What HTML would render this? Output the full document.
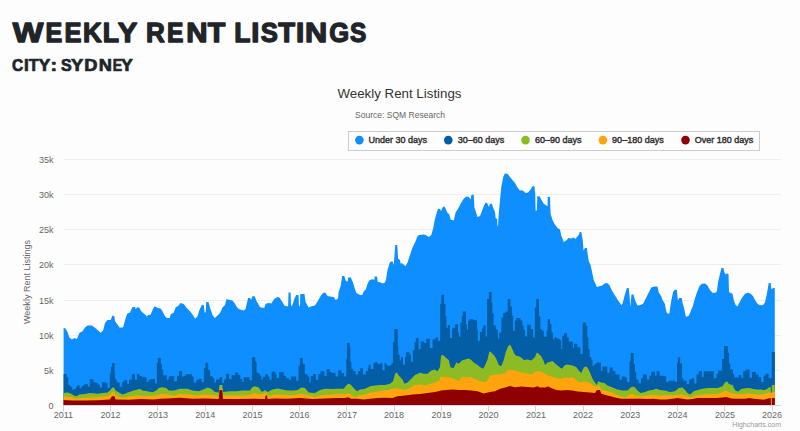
<!DOCTYPE html>
<html><head><meta charset="utf-8">
<style>
html,body{margin:0;padding:0;background:#fdfdfd;width:800px;height:431px;overflow:hidden}
svg{position:absolute;left:0;top:0}
text{font-family:"Liberation Sans",sans-serif}
</style></head><body>
<svg width="800" height="431" viewBox="0 0 800 431">
<g font-weight="bold" fill="#212529" stroke="#212529" stroke-linejoin="round">
<text transform="translate(12.64 42.0) scale(1.192 1)" font-size="27.2" stroke-width="1.3">W</text>
<text transform="translate(45.42 42.0) scale(0.924 1)" font-size="27.2" stroke-width="1.3">E</text>
<text transform="translate(64.41 42.0) scale(0.936 1)" font-size="27.2" stroke-width="1.3">E</text>
<text transform="translate(82.88 42.0) scale(0.954 1)" font-size="27.2" stroke-width="1.3">K</text>
<text transform="translate(102.85 42.0) scale(0.983 1)" font-size="27.2" stroke-width="1.3">L</text>
<text transform="translate(117.70 42.0) scale(1.079 1)" font-size="27.2" stroke-width="1.3">Y</text>
<text transform="translate(146.08 42.0) scale(0.959 1)" font-size="27.2" stroke-width="1.3">R</text>
<text transform="translate(167.04 42.0) scale(0.906 1)" font-size="27.2" stroke-width="1.3">E</text>
<text transform="translate(186.23 42.0) scale(1.084 1)" font-size="27.2" stroke-width="1.3">N</text>
<text transform="translate(207.86 42.0) scale(1.057 1)" font-size="27.2" stroke-width="1.3">T</text>
<text transform="translate(234.36 42.0) scale(0.976 1)" font-size="27.2" stroke-width="1.3">L</text>
<text transform="translate(251.34 42.0) scale(1.073 1)" font-size="27.2" stroke-width="1.3">I</text>
<text transform="translate(260.77 42.0) scale(0.943 1)" font-size="27.2" stroke-width="1.3">S</text>
<text transform="translate(278.25 42.0) scale(1.011 1)" font-size="27.2" stroke-width="1.3">T</text>
<text transform="translate(296.12 42.0) scale(1.092 1)" font-size="27.2" stroke-width="1.3">I</text>
<text transform="translate(305.08 42.0) scale(1.128 1)" font-size="27.2" stroke-width="1.3">N</text>
<text transform="translate(329.26 42.0) scale(0.941 1)" font-size="27.2" stroke-width="1.3">G</text>
<text transform="translate(349.98 42.0) scale(0.898 1)" font-size="27.2" stroke-width="1.3">S</text>
<text transform="translate(12.09 70.6) scale(0.935 1)" font-size="16.6" stroke-width="0.7">C</text>
<text transform="translate(24.01 70.6) scale(1.035 1)" font-size="16.6" stroke-width="0.7">I</text>
<text transform="translate(28.76 70.6) scale(0.974 1)" font-size="16.6" stroke-width="0.7">T</text>
<text transform="translate(38.47 70.6) scale(1.069 1)" font-size="16.6" stroke-width="0.7">Y</text>
<text transform="translate(50.52 70.6) scale(1.186 1)" font-size="16.6" stroke-width="0.7">:</text>
<text transform="translate(61.08 70.6) scale(0.968 1)" font-size="16.6" stroke-width="0.7">S</text>
<text transform="translate(71.07 70.6) scale(1.114 1)" font-size="16.6" stroke-width="0.7">Y</text>
<text transform="translate(84.16 70.6) scale(1.103 1)" font-size="16.6" stroke-width="0.7">D</text>
<text transform="translate(98.66 70.6) scale(1.100 1)" font-size="16.6" stroke-width="0.7">N</text>
<text transform="translate(112.85 70.6) scale(0.849 1)" font-size="16.6" stroke-width="0.7">E</text>
<text transform="translate(121.07 70.6) scale(1.069 1)" font-size="16.6" stroke-width="0.7">Y</text>
</g>

<text x="337.5" y="97.5" font-size="12.5" fill="#333" textLength="124" lengthAdjust="spacingAndGlyphs">Weekly Rent Listings</text>
<text x="355" y="117.7" font-size="9" fill="#666" textLength="90" lengthAdjust="spacingAndGlyphs">Source: SQM Research</text>
<!-- grid -->
<g stroke="#eeeeee" stroke-width="1">
<path d="M64 159.5H781M64 194.5H781M64 229.5H781M64 264.5H781M64 300.5H781M64 335.5H781M64 370.5H781"/>
</g>
<!-- legend -->
<rect x="348.5" y="131.5" width="411" height="19" fill="#fdfdfd" stroke="#cccccc" stroke-width="1"/>
<g font-size="9.5" font-weight="normal" fill="#333" stroke="#333" stroke-width="0.45">
<circle cx="359.4" cy="140.1" r="4.3" fill="#0f8fff" stroke="none"/><text x="368.6" y="143.4" textLength="58.4" lengthAdjust="spacingAndGlyphs">Under 30 days</text>
<circle cx="448.3" cy="140.1" r="4.3" fill="#035ea5" stroke="none"/><text x="457.8" y="143.4" textLength="46.5" lengthAdjust="spacingAndGlyphs">30&#8211;60 days</text>
<circle cx="525.5" cy="140.1" r="4.3" fill="#8cbb24" stroke="none"/><text x="535" y="143.4" textLength="46.6" lengthAdjust="spacingAndGlyphs">60&#8211;90 days</text>
<circle cx="602.9" cy="140.1" r="4.3" fill="#ffa40c" stroke="none"/><text x="612.1" y="143.4" textLength="51.7" lengthAdjust="spacingAndGlyphs">90&#8211;180 days</text>
<circle cx="685.5" cy="140.1" r="4.3" fill="#8f0000" stroke="none"/><text x="694.7" y="143.4" textLength="58.5" lengthAdjust="spacingAndGlyphs">Over 180 days</text>
</g>
<!-- y labels -->
<g font-size="9" fill="#666" text-anchor="end">
<text x="53.4" y="162.8">35k</text>
<text x="53.4" y="198.0">30k</text>
<text x="53.4" y="233.2">25k</text>
<text x="53.4" y="268.4">20k</text>
<text x="53.4" y="303.6">15k</text>
<text x="53.4" y="338.8">10k</text>
<text x="53.4" y="374.0">5k</text>
<text x="53.4" y="408.5">0</text>
</g>
<text transform="translate(29.8,282) rotate(-90)" font-size="9" fill="#666" text-anchor="middle" textLength="84" lengthAdjust="spacingAndGlyphs">Weekly Rent Listings</text>
<path fill="#0f8fff" d="M63.6 405L63.6 328.1L63.75 328.1L65.6 328.5L67.5 331.9L69.4 337.5L71.9 339.4L74.4 338.1L76.9 339L79.4 333.1L82.5 331.25L85 327.5L87.5 325.4L91.9 325.4L95 327.75L97.5 330L100.6 332.75L103.1 330.6L105 323.1L107.5 320L110.6 320L112.5 315.6L114.4 316.25L115 321.25L117.5 324.4L119.75 327.75L123.1 327.25L125 320.6L127.1 313.75L130 312.5L132.5 306.9L135 306.9L135.6 309L137.5 307.25L139.4 307.75L141.25 311.25L145 314.4L146.9 316.5L148.1 315L150.6 314.75L152.5 310L154.4 306.6L156.25 306.9L157.5 308.1L160.6 308.5L162.5 311.25L165 316.25L166.9 318.1L169.75 318.1L170.6 314.4L173.75 312.5L175.6 307.5L178.1 306L180.6 303.1L183.75 304L186.25 307.5L190 311.25L192.5 314.4L195.25 318.75L197.5 316.25L199.4 310L201.9 304.75L203.75 305L204.6 312.5L205.6 312.5L206.25 301.9L208.5 301.9L210 307.5L212.5 315L214.75 318.1L217.5 315.6L220 313.1L222.5 307.5L225 305L226.5 299L228.75 299.75L232.5 300.6L235 303.75L237.5 308.1L240 309.4L243.75 310.6L245.6 308.75L248.1 298.1L250 298.1L251 300L252.5 296.25L254.75 296.25L256.25 300.6L258.1 303.75L260 306.9L261.9 307.75L264.4 307.75L265.6 303.75L268.75 303.1L271.25 303.5L274.4 298.75L277.5 296.9L279.4 297.5L281.9 301.25L284.4 305.6L286.25 306.25L288.1 306.25L288.5 292.5L290.6 292.5L291 306.25L292.5 305L294.4 298.75L296.25 295L298.5 295L299 306.25L300 306.25L300.25 294L304.4 294L305.6 301.9L308.75 307.5L311.25 306.25L315 305.6L318.1 300.6L321.25 295L323.75 292.5L325.6 293.1L327.5 296L330 296.5L333.75 296.9L335.6 300L336.5 299.5L338 298.6L338.75 291.5L340.6 286.25L341.75 278.75L342.1 275.9L344.4 276.1L345.5 280.25L347.4 281.75L348.4 277.25L350.75 277.6L353 282.5L354.5 287.75L356.4 293L358.25 294.1L360.1 295.1L362.4 295.1L363.5 291.5L365.75 289.6L367.25 284.75L369.1 280.6L371.75 279.35L374.4 279.65L374.75 276.5L377 276.5L377.75 281.75L380.75 282.5L383 283.6L384.9 282.5L386 279.5L387.5 270L390 261.9L392.5 261.25L393.75 265L395.25 245L397.25 245L398.1 258.75L400 260L400.6 263.75L401.9 263.1L403.5 264.4L405.6 266.25L407.5 262.5L410 255L412.5 247.5L415 242.5L417.5 236.25L419.4 235L423.75 234.4L425.6 235L428.75 236.9L431.25 235L433.1 228.75L435 218.75L436.9 211.9L438.1 208.75L440 209L441 211.25L442.5 207.5L444.4 206.25L445.6 208.75L447.5 213.1L449.4 214.4L450.6 219.4L453.75 220.6L455.6 212.5L458.75 207.5L461.25 202.5L463.75 198.75L466.25 196.5L468.75 196.9L470.6 199.4L471.5 194.75L473.75 194.75L474.4 207.5L476.25 213.1L477.5 216.9L480 216L481.9 211.25L483.75 206.25L485.6 202.5L487.5 203.5L488.75 206.9L490 203.75L491.9 203.75L493.1 207.5L495 211.9L495.6 218L497.2 219L497.5 226L498.1 226L498.4 218L499.4 206.25L501.25 187.5L503.1 177.5L504.75 173.5L507.5 173.75L510 176.9L512.5 180L515 183.1L517.5 187.5L519.75 190.6L522.5 190.25L525.6 193.1L528.1 192.5L530.6 189.4L532.5 186.25L534.4 186.25L535.25 193.75L535.6 210.6L536.9 210.6L537.25 196.25L539.4 196.25L541.25 199.4L543.75 203.75L545.6 205L547.5 206.25L547.75 196.9L550 196.9L550.6 213.75L552.5 220L554.4 223.75L557.5 228.1L560 229.4L561.25 235.6L563.75 241.9L566.25 240.6L568.5 238.1L571.25 238.5L573.75 237.5L575.6 239L576.9 236.9L578.75 235L579.75 231.9L581.25 231.9L582.75 240L583.5 250.6L585 248.1L586.9 248.1L587.75 255L588.75 261.25L590.6 265L591.9 271.25L593.75 280L596.9 286.9L600 286L602.5 285.6L604.4 283.5L606.9 283.1L609.4 285L611.9 290.6L615 295.6L618.1 300.6L621.25 305L622.5 303.75L624.75 295L626.9 288.1L628.75 288.1L629.75 298.75L630.25 306.9L631.5 294.4L633.5 294.4L635 300L637.5 305.6L640.6 305L643.1 303.75L646.25 297.5L648.75 292.5L651.25 287.5L654.4 286.5L657.5 286.5L658.75 292.5L661.25 296.25L662.25 299.5L664.9 304L666 310L667.1 313.4L669.4 313.4L670.5 305.5L671.25 301L673.1 291.9L675 289.4L676.9 290L677.25 295L678 300.6L679.1 298L681.75 298L682.5 302.5L684 307.75L685.1 313L685.9 316.75L688.5 316L690 313L691.5 309.25L693 305.5L694.4 300L696.9 292.5L699.4 286.25L701.9 283.75L705 283.5L707.5 285.6L710 290L712.5 292.75L715 293.1L716.9 291.25L718.1 281.9L720 273.75L721.5 268.1L723.5 268.1L724.4 272.5L725.6 274.4L726.5 273.5L728.5 273.75L729 291.9L730.6 293.1L732.5 293.75L733.75 300L735.6 305L737.5 306.5L739.4 302.5L741.9 298.1L745 293.75L748.1 292.75L750.6 293.75L753.1 296.25L755 300L757.5 303.75L760 305.25L763.1 305L765 302.5L766.9 293.75L768.75 283.1L770.6 283.1L771.5 289.4L773.1 288.1L774.75 288.1L774.8 288.1L774.8 405Z"/>
<path fill="#035ea5" d="M63.6 405L63.6 374.0L63.6 374L66.6 374L66.6 377.3L68.3 377.3L68.3 384.7L69.2 384.7L69.2 385.6L70.8 385.6L70.8 387L72.2 387L72.2 389.8L73.6 389.8L73.6 388.9L75.9 388.9L75.9 387L77.3 387L77.3 385.1L79.6 385.1L79.6 387.9L81.5 387.9L81.5 386.1L83.8 386.1L83.8 384.2L88 384.2L88 386.5L89.8 386.5L89.8 379.3L93.4 379.3L93.4 381.9L94.9 381.9L94.9 382.8L97.7 382.8L97.7 384.5L99.8 384.5L99.8 387.5L102.1 387.5L102.1 382.1L104.9 382.1L104.9 382.8L107.5 382.8L107.5 387.9L109.8 387.9L109.8 373.6L110.9 373.6L110.9 366.8L112 366.8L112 363.1L114.6 363.1L114.6 373.3L115.1 373.3L115.1 378.9L116.5 378.9L116.5 381.7L117.4 381.7L117.4 382.6L119.7 382.6L119.7 386.8L122.1 386.8L122.1 382.1L123.9 382.1L123.9 380.3L127.2 380.3L127.2 384L129 384L129 379.8L131.8 379.8L131.8 374.3L134.9 374.3L134.9 379.8L136.9 379.8L136.9 374.3L139.7 374.3L139.7 376.1L142 376.1L142 376.9L144.8 376.9L144.8 377.5L146.6 377.5L146.6 382.1L148.5 382.1L148.5 379.8L150.8 379.8L150.8 379.1L155 379.1L155 383.5L156.8 383.5L156.8 363.1L157.8 363.1L157.8 358L160 358L160 358L160.8 358L160.8 364.1L161.9 364.1L161.9 369.6L163.1 369.6L163.1 375.2L166.8 375.2L166.8 379.8L168.7 379.8L168.7 376.6L170.5 376.6L170.5 375.9L174.2 375.9L174.2 381.2L177 381.2L177 375.7L178.9 375.7L178.9 371L182.1 371L182.1 376.6L184 376.6L184 375.7L185.8 375.7L185.8 374.3L191.9 374.3L191.9 376.6L193.7 376.6L193.7 382.6L196.5 382.6L196.5 379.8L198.8 379.8L198.8 378.7L201.6 378.7L201.6 382.1L203.9 382.1L203.9 368.2L205.3 368.2L205.3 362.7L208.3 362.7L208.3 370.1L210.2 370.1L210.2 376.1L212.5 376.1L212.5 378L214.3 378L214.3 382.6L216 382.6L216 379.4L219.5 379.4L219.5 377.2L222.2 377.2L222.2 383.1L224.1 383.1L224.1 379.4L226 379.4L226 373.8L229.2 373.8L229.2 378.9L231.5 378.9L231.5 375.2L235.2 375.2L235.2 372.4L238 372.4L238 374.7L240.3 374.7L240.3 378.9L242.2 378.9L242.2 381.7L243.6 381.7L243.6 377.2L249.6 377.2L249.6 380.3L251.9 380.3L251.9 357.6L253.3 357.6L253.3 357.1L255.2 357.1L255.2 361.3L256 361.3L256.05 362.2L256.6 362.2L256.6 372.4L258.2 372.4L258.2 373.8L260 373.8L260 375.7L261.4 375.7L261.4 379.4L262.8 379.4L262.8 377L265.1 377L265.1 374.3L267.9 374.3L267.9 376.6L269.3 376.6L269.3 379.8L271.6 379.8L271.6 371.7L275.5 371.7L275.5 374.3L276.7 374.3L276.7 378L279 378L279 372.2L283.7 372.2L283.7 375.7L286 375.7L286 378L288.8 378L288.8 379.8L291.1 379.8L291.1 376.6L296.2 376.6L296.2 380.8L298.5 380.8L298.5 365.5L299.9 365.5L299.9 358L302.7 358L302.7 363.1L303.1 363.1L303.1 364.1L304.8 364.1L304.8 374.3L307.6 374.3L307.6 376.6L309.4 376.6L309.4 382.6L310.8 382.6L310.8 376.1L313.1 376.1L313.1 374.1L315.9 374.1L315.9 379.8L318.2 379.8L318.2 374.3L320.6 374.3L320.6 371.3L324.3 371.3L324.3 376.1L326.6 376.1L326.6 369.2L329.8 369.2L329.8 371.9L332.1 371.9L332.1 372.9L335.4 372.9L335.4 376.6L338.2 376.6L338.2 370.6L339.95 370.6L340 370.3L341.4 370.3L341.4 373L343.9 373L343.9 376.5L346.3 376.5L346.3 359L347 359L347 343.1L349.75 343.1L349.75 347.3L350.4 347.3L350.4 361.9L351.4 361.9L351.4 368.9L353.2 368.9L353.2 371L355.6 371L355.6 374.4L358.1 374.4L358.1 371L360.2 371L360.2 368.2L363 368.2L363 374.4L365.8 374.4L365.8 371L367.9 371L367.9 368.2L368.6 368.2L368.6 364.7L370.6 364.7L370.6 368.9L373.4 368.9L373.4 363.3L374.8 363.3L374.8 362.3L377.6 362.3L377.6 364L379.7 364L379.7 363.3L382.5 363.3L382.5 370.3L384.6 370.3L384.6 362.3L388 366L389.4 366L389.4 365.3L391.5 365.3L391.5 363.2L392.9 363.2L392.9 342.3L394.3 342.3L394.3 329L397.75 329L397.75 345.8L398.4 345.8L398.4 354.8L399.8 354.8L399.8 360.4L400.8 360.4L400.8 357.6L403 357.6L403 364.6L405 364.6L405 356.9L406.1 356.9L406.1 352.3L409.6 352.3L409.6 354.8L411 354.8L411 361.8L412.8 361.8L412.8 350L414.5 350L414.5 342.3L415.9 342.3L415.9 338.1L418.6 338.1L418.6 349.2L420.7 349.2L420.7 341.6L424.2 341.6L424.2 343L426.3 343L426.3 338.8L429.8 338.8L429.8 347.9L432.6 347.9L432.6 339.5L435.4 339.5L435.4 337.4L436 337.4L438.1 337.4L438.1 340.9L440.2 340.9L440.2 304L441.3 304L441.3 294.7L444.1 294.7L444.1 304L445.5 304L445.5 315.9L446.4 315.9L446.4 327.7L447.8 327.7L447.8 324.9L449.9 324.9L449.9 338.1L452 338.1L452 328.4L453.4 328.4L453.4 327.7L455.2 327.7L455.2 324.2L458 324.2L458 332.6L459 332.6L459 336.7L460.4 336.7L460.4 322.8L461.8 322.8L461.8 315.9L462.7 315.9L462.7 311.4L466 311.4L466 324.2L466.9 324.2L466.9 329.8L468 329.8L468 320.7L469.4 320.7L469.4 319.3L473.6 319.3L473.6 320.3L477.1 320.3L477.1 329.8L477.8 329.8L477.8 340.9L479.9 340.9L479.9 331.9L482 331.9L482 328.4L483.4 328.4L483.4 325.3L484 325.4L485.7 325.4L485.7 336.5L487.1 336.5L487.1 298.9L488.9 298.9L488.9 292L491.7 292L491.7 303.1L492.4 303.1L492.4 313.6L493.7 313.6L493.7 325.4L495.8 325.4L495.8 329.6L497.9 329.6L497.9 338.6L499.3 338.6L499.3 332.4L501.4 332.4L501.4 317.7L503.2 317.7L503.2 312.9L505.6 312.9L505.6 311.5L507.7 311.5L507.7 298.9L510.5 298.9L510.5 306.6L511.9 306.6L511.9 315.6L513.2 315.6L513.2 331L514.9 331L514.9 320.5L516.3 320.5L516.3 318.1L520.5 318.1L520.5 320.5L522.3 320.5L522.3 325.4L523.7 325.4L523.7 330.3L525.1 330.3L525.1 336.5L527.2 336.5L527.2 324.7L530.7 324.7L530.7 329.6L532 329L533.1 329L533.1 337.4L534.8 337.4L534.8 307.4L536.2 307.4L536.2 299L539 299L539 316.5L540.4 316.5L540.4 329L541.7 329L541.7 330.4L543.8 330.4L543.8 336.7L546.6 336.7L546.6 330.4L547.6 330.4L547.6 319.2L550.1 319.2L550.1 324.1L551.5 324.1L551.5 332.5L552.9 332.5L552.9 339.4L554.3 339.4L554.3 337.4L557.1 337.4L557.1 338.7L559.9 338.7L560 340.3L561.2 340.3L561.2 349L562.3 349L562.3 335.7L564 335.7L564 333.3L567 333.3L567 337.4L568.7 337.4L568.7 341.5L572.8 341.5L572.8 347.8L574 347.8L574 343.8L577.4 343.8L577.4 347.3L580.3 347.3L580.3 354L582.6 354L582.6 324L583.2 322.5L586.1 322.5L586.1 325.8L587.3 325.8L587.3 337.4L588.4 337.4L588.4 349L589.6 349L589.6 357L591.3 357L591.3 359.4L592.5 359.4L592.5 366.4L597.1 362.4L600.9 362.4L600.9 371.1L602.4 371.1L602.4 366.5L607.3 366.5L607.3 372.8L609.6 372.8L609.6 367.6L612.8 367.6L612.8 371.1L615.4 371.1L615.4 374.6L619.5 374.6L619.5 379.8L621.8 379.8L621.8 376.6L625 376.6L625 377.6L626.9 377.6L626.9 382L629.5 382L629.5 361.6L630.7 361.6L630.7 352.9L633.7 352.9L633.7 364.2L635 364.2L635 371.8L636.2 371.8L636.2 379.5L638.4 379.5L638.4 383.3L641 383.3L641 378.2L642.9 378.2L642.9 374.4L646.7 374.4L646.7 379.5L649.3 379.5L649.3 375.7L651.2 375.7L651.2 371.8L655 371.8L655 375.7L656.7 375.7L656.7 371.2L659.5 371.2L659.5 375.7L665 375.7L665.05 376.4L666.2 376.4L666.2 382.1L668.7 382.1L668.7 380.8L675.1 380.8L675.1 382.1L677 382.1L677 363L677.7 363L677.7 357.2L680.2 357.2L680.2 363.6L682.1 363.6L682.1 378.3L683.4 378.3L683.4 380.8L686.6 380.8L686.6 384L689.1 384L689.1 379.5L691.7 379.5L691.7 378.3L694.2 378.3L694.2 383.4L696.4 383.4L696.4 374.4L698.7 374.4L698.7 371.3L701.9 371.3L701.9 377L703.8 377L703.8 371.3L712.95 371.25L713.8 371.25L713.8 378.3L716.4 378.3L716.4 373.8L718.3 373.8L718.3 370.6L722.1 370.6L722.1 359.1L724 359.1L724 346.1L727.9 346.1L727.9 352.8L729.1 352.8L729.1 363.6L730.4 363.6L730.4 369.3L733 369.3L733 373.8L734.2 373.8L734.2 377.6L738.7 377.6L738.7 375.1L741.3 375.1L741.3 378.3L743.2 378.3L743.2 371.3L745.7 371.3L745.7 369.6L749.6 369.6L749.6 377.7L752.1 377.7L752.1 371.9L756 371.9L756 374.5L758.5 374.5L758.5 377L761.1 377L761.1 382.1L763.6 382.1L763.6 375.8L765.5 375.8L765.5 373.8L768.7 373.8L768.7 378.3L770.7 378.3L770.9 378.3L770.9 378L771.8 378L771.8 352.1L774.75 352.1L774.8 352.1L774.8 405Z"/>
<path fill="#8cbb24" d="M63.6 405L63.6 393.1L63.75 393.1L67.5 392.5L71.25 393.75L73.75 395.6L76.9 396.25L79.4 394.4L85 394L90 393.1L97.5 393.75L102.5 393.1L107.5 392.5L110 390.6L112.25 387.5L114 387.5L115.6 390.6L118.75 392.5L122.5 394.4L125 393.75L128.75 392.25L133.75 390.6L137.5 389.4L140 388.75L142.5 390.6L147.5 391.25L152.5 392.25L156.25 390.6L158.75 388.1L161.9 387.25L166.25 388.1L168.75 390.6L173.75 390.6L180 388.75L187.5 388.75L192.5 390.6L198.75 391.25L205 388.75L207.5 387.5L211.25 388.75L215 391.9L218.75 392.5L219.5 385L222.25 385L223.1 391.9L230 391.25L236.25 391.25L242.5 390.6L250 390.6L252.5 386.9L255 386.25L258.75 387.5L261.9 391.9L265 390L267.5 391.9L272.5 389.4L277.5 388.5L282.5 389.4L287.5 390.6L293.75 390.6L297.5 390L301.25 387.5L305 388.1L308.75 392.5L315 393.1L320 390L325 388.75L331.25 389L337.5 388.75L343.75 388.75L345 386.9L348.1 383.75L350.6 384.4L353.75 388.1L356.9 391.25L360 389.4L365 388.75L370 386.25L375 385.6L380 385L385 385L390 383.75L393.1 381.25L395 373.75L396.9 372.5L398.75 375.6L402.5 379.4L404.4 383.75L407.5 382.5L411.25 378.75L415 375L420 372.75L423.75 373.75L427.5 373.75L431.25 370.6L434.4 369.4L437.5 371.25L440 366.9L440.8 358L441.25 355L443.75 355.6L446.25 358.1L448.75 360L450.6 367.5L453.75 368.1L456.25 362.5L458.75 363.75L461.9 360.6L465 359.4L468.75 358.5L471.25 360L473.75 362.5L476.9 364.4L480 366.9L483.1 368.75L485 365.6L487.5 359.4L489.4 351.25L491.25 352.5L493.75 355L496.25 358.75L498.75 365L501.25 366.25L503.75 360L505.6 352.5L508.1 346.25L510 344.4L511.9 348.1L513.75 352.5L515.6 355.6L518.75 356.25L521.25 357.5L523.75 360L527.5 359.4L531.25 360.6L535 356.9L536.9 352.5L538.75 353.75L541.25 356.25L543.75 361.25L545 365L547.5 362.5L552.5 361L556.25 364.4L560 367.5L561.9 368.75L565 365L567.5 364.4L572.5 365.6L576.25 366.9L578.75 370.6L581.25 373.1L583.75 367.5L586.25 366.25L588.1 368.75L590 372.5L592.5 378.75L595 382.5L596.9 385L598.1 381.25L601.25 382.5L604.4 383.1L607.5 385.6L612.5 387.5L617.5 389.4L622.5 390.6L627.5 390.6L630.6 387.5L633.1 386.5L635 387.5L637.5 390.6L640.6 393.1L645 391.9L648.75 390.6L652.5 390L656.25 388.75L660 390L665 390.6L670 391.9L675 391.25L678.75 388.1L682.5 387.5L685 390L687.5 393.1L690 394.4L693.75 391.25L697.5 390L702.5 388.75L707.5 388.1L712.5 388.1L717.5 388.1L722.5 386.25L725 382.5L726.9 381.25L728.75 383.75L731.25 385L732.3 384.6L733.9 387.9L735.6 390.7L738.4 391.5L741.2 389.1L745.3 388.3L749.4 387.9L753.4 389.1L757.5 389.5L761.6 389.5L764 390.3L767.2 388.7L769.7 387.1L770.8 387.3L770.8 387.3L770.9 392.9L771.8 392.9L771.8 385L774.75 385L774.8 385.0L774.8 405Z"/>
<path fill="#ffa40c" d="M63.6 405L63.6 396.5L63.75 396.5L70 396.9L76.25 398.5L85 397.75L95 397.25L105 396.5L110 395L111.9 392.25L114.4 392.25L115.6 395.6L122.5 397.75L130 396.5L137.5 395.6L147.5 396.25L155 395.6L160 394.75L161.25 393.75L167.5 394.4L175 395.6L180 393.75L190 394.4L196.25 395.6L205 394.4L212.5 395L218.75 396.25L219.5 388.75L222.25 388.75L223.1 395L230 395.6L242.5 395.6L250 395L253.75 393.1L260 394.4L264.8 393.1L267 393.1L267.5 396.25L275 394.4L285 395L295 395L301.25 393.75L307.5 395L315 396.9L322.5 395L331.25 394.4L340 393.75L345 394.4L348.1 393.1L351.25 395L355 396.9L358.75 395.6L363.75 395L370 392.5L376.25 391.9L382.5 390.6L388.75 390L395 388.1L400 388.75L405 390L410 388.1L415 385L420 384.4L425 385.6L430 383.75L435 382.5L438.75 380.6L441.25 376.25L442.5 376.9L447.5 376.9L452.5 378.1L458.75 381.25L461.25 377.5L465 376.9L470 376.9L475 378.75L480 381.25L486.25 381.9L490 375.6L495 374.4L500 374.4L505 373.1L508.75 369.4L513.75 370L518.75 371.9L525 373.1L531.25 374.4L535 371.9L537.5 370.6L540 371.25L545 373.75L550 376.25L555 377.5L560 378.75L565 377.5L568.75 378.1L572.5 376.9L576.25 380L580 382.5L583.75 381.25L587.5 381.9L591.25 383.75L595 386.9L597.5 385.6L600 386.25L601.25 390L605 390.6L610 391.9L615 393.75L620 396.25L625 397.5L630 394.4L632.5 393.75L635 395.5L640 396.25L645 395.6L650 395L655 395L660 395.6L665 395L671.25 395.6L676.25 395L681.25 394.4L686.25 395.6L690 397.75L695 395.6L702.5 394.4L710 394L717.5 394L722.5 391.9L725 390.6L728.75 391.9L731.5 393.6L735.6 394L738.8 394.4L743.7 394L748.6 393.6L753.4 394L757.5 394.4L762.4 394.4L766.4 393.2L769.7 391.9L770.8 392.5L770.8 392.5L770.9 392.9L771.8 392.9L771.8 392L774.75 392L774.8 392.0L774.8 405Z"/>
<path fill="#8f0000" d="M63.6 405L63.6 400.0L63.75 400L72.5 400.6L85 400.6L97.5 400.25L110 399.4L111.9 396.25L114.4 396.25L115.6 399.4L128.75 399.75L141.25 399L153.75 399.4L160 398.75L167.5 398.5L180 397.75L192.5 398.75L205 398.5L218.75 399L219.5 390L222.25 390L223.1 399L236.25 399L255 398.75L262.5 399L265 399L265.6 395.6L267 395.6L267.5 399L275 398.5L287.5 398.75L300 398.1L312.5 399L325 398.5L337.5 398.1L345 398.1L348.1 397.25L351.25 398.75L357.5 398.75L363.75 399.4L370 398.75L377.5 398.1L385 397.75L392.5 398.1L397.5 396.25L405 395.6L412.5 394.4L420 394L427.5 393.1L435 391.9L441.25 390.6L446.25 390L452.5 389.4L458.75 390L465 390L471.25 390.6L477.5 391.25L483.75 393.5L490 391.9L495 391.25L500 388.75L505 387.5L510 386L515 387.25L521.25 386.5L527.5 386.9L533.75 387.5L537.5 386.25L540 387.5L545 387.5L548.1 386.5L551.25 388.1L556.25 390L561.25 390.6L566.25 390L572.5 390.6L577.5 391.5L583.75 391.9L590 392.5L595 393.1L596.9 390L600 390L601.25 393.75L607.5 395.6L615 397.5L621.25 398.75L627.5 398.75L632.5 398.75L641.25 398.75L647.5 399L653.75 398.75L660 399.4L666.25 399.4L672.5 398.75L677.5 398.1L682.5 398.75L687.5 399.4L692.5 399L697.5 398.1L710 398.1L716.25 398.1L722.5 397.5L726.25 396.9L731.5 398.4L737.2 398.8L745.3 398.8L749.4 398L753.4 398.8L759.1 399.2L764 399.65L767.2 398.8L770.5 398L770.8 398L770.8 398L770.9 405L771.8 405L771.8 398L774.75 398L774.8 398.0L774.8 405Z"/>

<!-- x axis -->
<path d="M64 405.5H781" stroke="#ccd6eb" stroke-width="1"/>
<g stroke="#ccd6eb" stroke-width="1"><path d="M63.5 405V411.5"/><path d="M110.5 405V411.5"/><path d="M157.5 405V411.5"/><path d="M205.5 405V411.5"/><path d="M252.5 405V411.5"/><path d="M299.5 405V411.5"/><path d="M346.5 405V411.5"/><path d="M394.5 405V411.5"/><path d="M441.5 405V411.5"/><path d="M488.5 405V411.5"/><path d="M535.5 405V411.5"/><path d="M583.5 405V411.5"/><path d="M630.5 405V411.5"/><path d="M677.5 405V411.5"/><path d="M724.5 405V411.5"/><path d="M772.5 405V411.5"/></g>
<g font-size="9" fill="#666" text-anchor="middle"><text x="63.4" y="418.2">2011</text><text x="110.6" y="418.2">2012</text><text x="158.0" y="418.2">2013</text><text x="205.2" y="418.2">2014</text><text x="252.4" y="418.2">2015</text><text x="299.6" y="418.2">2016</text><text x="346.9" y="418.2">2017</text><text x="394.1" y="418.2">2018</text><text x="441.4" y="418.2">2019</text><text x="488.6" y="418.2">2020</text><text x="535.9" y="418.2">2021</text><text x="583.1" y="418.2">2022</text><text x="630.3" y="418.2">2023</text><text x="677.5" y="418.2">2024</text><text x="724.9" y="418.2">2025</text><text x="772.1" y="418.2">2026</text></g>
<text x="781" y="427" font-size="7" fill="#999" text-anchor="end">Highcharts.com</text>
</svg>
</body></html>
